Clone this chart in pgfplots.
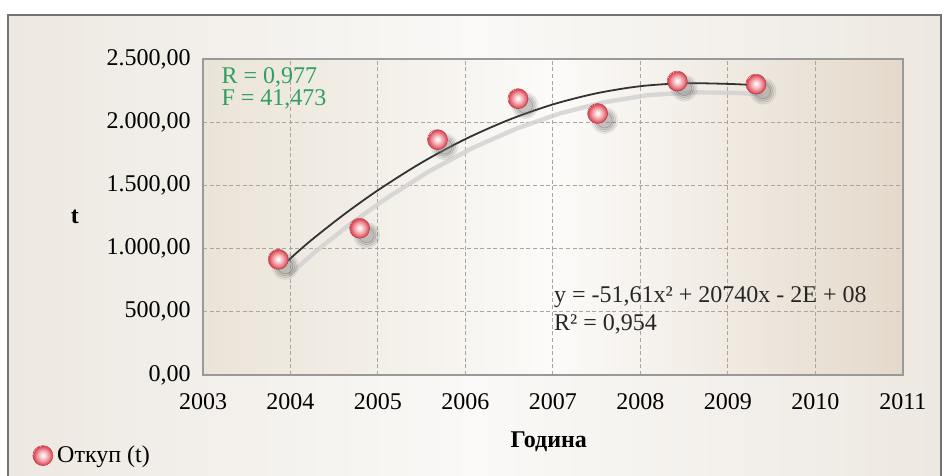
\documentclass[border=0pt]{standalone}
\usepackage{fontspec}
\setmainfont{Liberation Serif}
\usepackage{pgfplots}
\usepackage{pgfplotstable}
\pgfplotsset{compat=1.18}
\definecolor{bgedge}{HTML}{EDE8E1}
\definecolor{bgmid}{HTML}{FAF9F7}
\definecolor{plotL}{HTML}{EAE3D8}
\definecolor{plotM}{HTML}{FCFBF9}
\definecolor{plotR}{HTML}{E4D9CB}
\definecolor{gridc}{HTML}{ADA59D}
\definecolor{rgreen}{HTML}{2FA060}
\definecolor{markc}{HTML}{E24B58}
\pgfdeclareradialshading{redball}{\pgfpoint{0bp}{1bp}}{color(0bp)=(white); color(6bp)=(markc!20!white); color(15bp)=(markc!60!white); color(21bp)=(markc!90!white); color(25bp)=(markc!90!black)}
\pgfdeclareplotmark{rball}{%
  \pgfpathcircle{\pgfpointorigin}{\pgfplotmarksize}%
  \pgfshadepath{redball}{0}%
  \pgfsetstrokecolor{markc!85!black}\pgfsetlinewidth{0.3pt}%
  \pgfusepath{stroke}}
\pgfplotstableread{
x y
2003.86 915
2004.79 1161
2005.68 1862
2006.60 2186
2007.51 2069
2008.42 2325
2009.32 2301
}\otkup
\pgfplotstableread{
x y
2003.90 860
2004.2 1045
2004.6 1264
2005.0 1462
2005.5 1681
2006.0 1867
2006.5 2020
2007.0 2141
2007.5 2229
2008.0 2285
2008.5 2308
2009.0 2303
2009.32 2293
}\trend
\begin{document}
\fontsize{12}{14}\selectfont
\begin{tikzpicture}
\useasboundingbox (0,0) rectangle (473.5pt,238pt);
\clip (0,0) rectangle (473.5pt,238pt);
\fill[white] (0,0) rectangle (473.5pt,238pt);
\shade[left color=bgedge, right color=bgedge, middle color=bgmid] (4pt,-2pt) rectangle (470.5pt,230.5pt);
\draw[black!55, line width=0.8pt] (4pt,-2pt) rectangle (470.5pt,230.5pt);
\begin{axis}[
  at={(101.5pt,50.5pt)}, anchor=south west,
  scale only axis, width=350pt, height=158pt,
  xmin=2003, xmax=2011, ymin=0, ymax=2500,
  xtick={2003,2004,...,2011},
  xticklabels={2003,2004,2005,2006,2007,2008,2009,2010,2011},
  ytick={0,500,1000,1500,2000,2500},
  yticklabels={{0,00},{500,00},{1.000,00},{1.500,00},{2.000,00},{2.500,00}},
  major tick length=0pt,
  xticklabel style={yshift=-5pt},
  yticklabel style={xshift=-2pt},
  grid=major,
  major grid style={gridc, dash pattern=on 2pt off 1.3pt, line width=0.5pt},
  axis line style={black!40, line width=0.7pt},
  axis background/.style={left color=plotL, right color=plotR, middle color=plotM},
  xlabel={\textbf{Година}},
  xlabel style={at={(axis description cs:0.494,-0.21)}, anchor=center},
  ylabel={\textbf{t}},
  ylabel style={rotate=-90, at={(axis description cs:-0.183,0.5)}, anchor=center},
  legend style={at={(axis description cs:-0.244,-0.255)}, anchor=west, draw=none, fill=none, inner sep=0pt},
  legend image code/.code={\draw[mark=rball, mark size=5pt] plot coordinates {(0pt,0pt)};},
]
\addplot[no marks, line width=2.2pt, color=black!18, opacity=0.8, xshift=3.5pt, yshift=-4.5pt, forget plot] table {\trend};
\addplot[no marks, smooth, line width=0.9pt, color=black!80, forget plot] table {\trend};
\addplot[only marks, mark=*, mark size=6.5pt, mark options={fill=black!50, draw=none, opacity=0.08, xshift=3.5pt, yshift=-3.5pt}, forget plot] table {\otkup};
\addplot[only marks, mark=*, mark size=5.6pt, mark options={fill=black!50, draw=none, opacity=0.12, xshift=3.5pt, yshift=-3.5pt}, forget plot] table {\otkup};
\addplot[only marks, mark=*, mark size=4.7pt, mark options={fill=black!50, draw=none, opacity=0.15, xshift=3.5pt, yshift=-3.5pt}, forget plot] table {\otkup};
\addplot[only marks, mark=*, mark size=3.8pt, mark options={fill=black!50, draw=none, opacity=0.18, xshift=3.5pt, yshift=-3.5pt}, forget plot] table {\otkup};
\addplot[only marks, mark=rball, mark size=5pt] table {\otkup};
\addlegendentry{Откуп (t)}
\node[anchor=west, text=rgreen, inner sep=0pt] at (axis description cs:0.026,0.943) {R = 0,977};
\node[anchor=west, text=rgreen, inner sep=0pt] at (axis description cs:0.026,0.873) {F = 41,473};
\node[anchor=west, inner sep=0pt, text=black!85] at (axis description cs:0.501,0.247) {y = -51,61x² + 20740x - 2E + 08};
\node[anchor=west, inner sep=0pt, text=black!85] at (axis description cs:0.501,0.161) {R² = 0,954};
\end{axis}
\end{tikzpicture}
\end{document}
